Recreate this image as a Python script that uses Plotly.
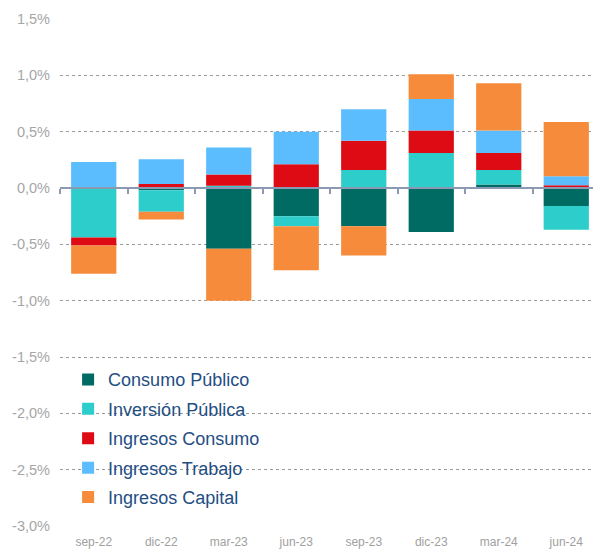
import plotly.graph_objects as go

# Contribuciones (%) por trimestre
periods = ["sep-22", "dic-22", "mar-23", "jun-23", "sep-23", "dic-23", "mar-24", "jun-24"]
consumo_publico = [0.0, -0.02, -0.54, -0.25, -0.34, -0.39, 0.03, -0.16]
inversion_publica = [-0.44, -0.19, 0.02, -0.09, 0.16, 0.31, 0.13, -0.21]
ingresos_consumo = [-0.07, 0.035, 0.10, 0.21, 0.26, 0.20, 0.15, 0.025]
ingresos_trabajo = [0.23, 0.22, 0.24, 0.29, 0.28, 0.28, 0.20, 0.08]
ingresos_capital = [-0.25, -0.07, -0.46, -0.39, -0.26, 0.22, 0.42, 0.48]

y_ticks = [1.5, 1.0, 0.5, 0.0, -0.5, -1.0, -1.5, -2.0, -2.5, -3.0]
y_ticktext = ["1,5%", "1,0%", "0,5%", "0,0%", "-0,5%", "-1,0%", "-1,5%", "-2,0%", "-2,5%", "-3,0%"]

series = [
    ("Consumo Público", consumo_publico, "#006b63"),
    ("Inversión Pública", inversion_publica, "#2ccdcb"),
    ("Ingresos Consumo", ingresos_consumo, "#de0b15"),
    ("Ingresos Trabajo", ingresos_trabajo, "#5bbdfe"),
    ("Ingresos Capital", ingresos_capital, "#f68b3b"),
]

fig = go.Figure()
for name, vals, col in series:
    fig.add_trace(go.Bar(
        x=periods, y=vals, name=name, marker_color=col,
        marker_line_width=0, legendgroup=name,
    ))

# zero axis line with tick marks between categories
fig.add_trace(go.Scatter(x=[None], y=[None], xaxis="x2", showlegend=False))

axis_gray = "#8c99b3"
fig.update_layout(
    width=593, height=543,
    barmode="relative",
    bargap=0.33,
    paper_bgcolor="white",
    plot_bgcolor="white",
    margin=dict(l=52, r=1, t=11, b=25),
    font=dict(family="Liberation Sans, Arial, sans-serif"),
    xaxis=dict(
        showgrid=False, showline=False, ticks="",
        tickfont=dict(size=12, color="#a0a0a0"),
        ticklabelstandoff=7,
    ),
    xaxis2=dict(
        overlaying="x", anchor="free", position=2 / 3.0,
        range=[-0.5, 7.5], showline=True, linecolor=axis_gray, linewidth=2,
        ticks="outside", ticklen=5, tickwidth=1.5, tickcolor=axis_gray,
        tickvals=[i - 0.5 for i in range(9)], showticklabels=False,
        showgrid=False, zeroline=False,
    ),
    yaxis=dict(
        range=[-3.0, 1.5], tickvals=y_ticks, ticktext=y_ticktext,
        showgrid=True, gridcolor="#9a9a9a", griddash="dot", gridwidth=1,
        zeroline=False, tickfont=dict(size=14.5, color="#a6a6a6"),
        ticklabelstandoff=9,
    ),
    legend=dict(
        x=0.015, y=0.325, xanchor="left", yanchor="top",
        bgcolor="rgba(0,0,0,0)", traceorder="grouped", tracegroupgap=3,
        font=dict(size=18, color="#1f4e83"),
    ),
)

fig.write_html("out.html")
